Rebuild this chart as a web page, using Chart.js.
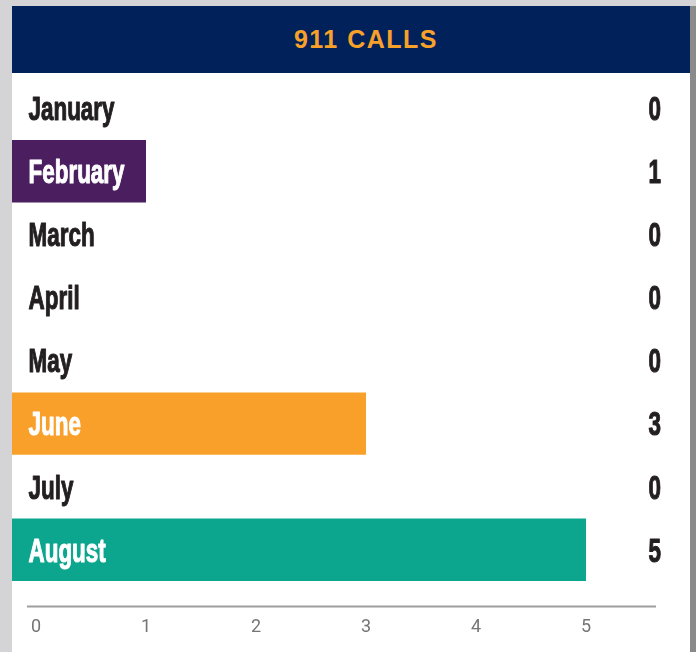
<!DOCTYPE html>
<html>
<head>
<meta charset="utf-8">
<script src="https://cdn.jsdelivr.net/npm/chart.js@4/dist/chart.umd.min.js"></script>
<style>
  html, body { margin: 0; padding: 0; }
  body { width: 696px; height: 652px; background: #d4d4d6; position: relative; overflow: hidden; }
  #panel { position: absolute; left: 12px; top: 6px; width: 678px; height: 646px; background: #ffffff; }
  #shadow { position: absolute; left: 690px; top: 6px; width: 6px; height: 646px; background: #8a8a8a; }
  #header { position: absolute; left: 0; top: 0; width: 678px; height: 67px; background: #00215a;
            display: flex; align-items: center; justify-content: center; }
  #header h1 { margin: 0; font-family: "Liberation Sans", Arial, sans-serif; font-weight: bold; font-size: 25px;
               letter-spacing: 1.5px; color: #f7a12a; padding-left: 30px; }
  #wrap { position: absolute; left: 0; top: 67px; width: 678px; height: 579px; }
</style>
</head>
<body>
<div id="panel">
  <div id="header"><h1>911 CALLS</h1></div>
  <div id="wrap"><canvas id="c" width="678" height="579"></canvas></div>
</div>
<div id="shadow"></div>
<script>
const months = ["January", "February", "March", "April", "May", "June", "July", "August"];
const calls = [0, 1, 0, 0, 0, 3, 0, 5];
const barColors = ["#4b1f5f", "#4b1f5f", "#4b1f5f", "#4b1f5f", "#4b1f5f", "#f9a02a", "#0ca58d", "#0ca58d"];
const tickValues = [0, 1, 2, 3, 4, 5];

const xMin = -0.218, xMax = 5.636, axisLineStart = -0.082;
const labelFont = 'bold 33px "Liberation Sans", Arial, sans-serif';
const squeeze = 0.68;

const rowText = {
  id: 'rowText',
  afterDatasetsDraw(chart) {
    const ctx = chart.ctx;
    const meta = chart.getDatasetMeta(0);
    const area = chart.chartArea;
    ctx.save();
    ctx.font = labelFont;
    ctx.textBaseline = 'alphabetic';
    ctx.lineJoin = 'round';
    ctx.lineWidth = 1.1;
    const capOff = 11.8;
    meta.data.forEach((bar, i) => {
      const y = bar.y + capOff;
      const col = calls[i] > 0 ? '#ffffff' : '#231f20';
      ctx.save();
      ctx.translate(16.5, y);
      ctx.scale(squeeze, 1);
      ctx.textAlign = 'left';
      ctx.fillStyle = col; ctx.strokeStyle = col;
      ctx.fillText(months[i], 0, 0);
      ctx.strokeText(months[i], 0, 0);
      ctx.restore();
      ctx.save();
      ctx.translate(649, y);
      ctx.scale(squeeze, 1);
      ctx.textAlign = 'right';
      ctx.fillStyle = '#231f20'; ctx.strokeStyle = '#231f20';
      ctx.fillText(String(calls[i]), 0, 0);
      ctx.strokeText(String(calls[i]), 0, 0);
      ctx.restore();
    });
    const xs = chart.scales.x;
    ctx.strokeStyle = '#9e9e9e';
    ctx.lineWidth = 2;
    ctx.beginPath();
    const ly = area.bottom + 25;
    ctx.moveTo(xs.getPixelForValue(axisLineStart), ly);
    ctx.lineTo(area.right, ly);
    ctx.stroke();
    ctx.restore();
  }
};

new Chart(document.getElementById('c'), {
  type: 'bar',
  data: {
    labels: months,
    datasets: [{
      data: calls,
      base: xMin,
      backgroundColor: (c) => calls[c.dataIndex] > 0 ? barColors[c.dataIndex] : 'rgba(0,0,0,0)',
      borderWidth: 0,
      barPercentage: 0.99,
      categoryPercentage: 1.0
    }]
  },
  options: {
    indexAxis: 'y',
    responsive: false,
    animation: false,
    events: [],
    layout: { autoPadding: false, padding: { top: 3.5, right: 34, left: 0, bottom: 14 } },
    plugins: { legend: { display: false }, tooltip: { enabled: false }, title: { display: false } },
    scales: {
      y: { display: false },
      x: {
        type: 'linear',
        min: xMin,
        max: xMax,
        afterBuildTicks: (scale) => { scale.ticks = tickValues.map(v => ({ value: v })); },
        border: { display: false },
        grid: { display: false, drawTicks: true, tickLength: 35 },
        ticks: {
          padding: 0,
          color: '#757575',
          font: { family: 'Roboto, "Liberation Sans", sans-serif', size: 18 },
          maxRotation: 0,
          autoSkip: false
        }
      }
    }
  },
  plugins: [rowText]
});
</script>
</body>
</html>
